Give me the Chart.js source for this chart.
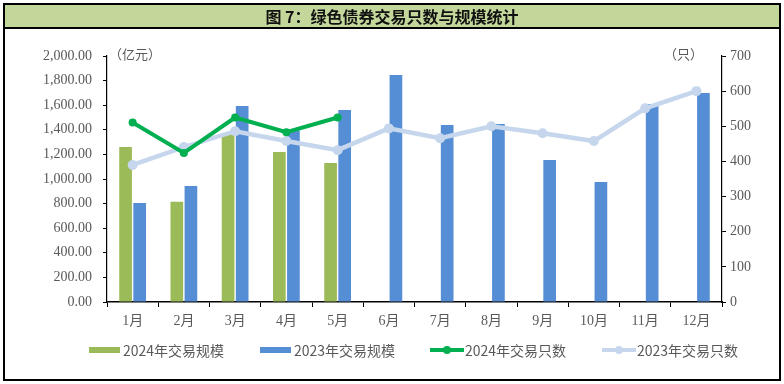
<!DOCTYPE html>
<html>
<head>
<meta charset="utf-8">
<script src="https://cdn.jsdelivr.net/npm/chart.js@4.4.1/dist/chart.umd.min.js"></script>
<style>
  html, body { margin: 0; padding: 0; background: #fff; }
  #wrap { position: relative; width: 784px; height: 384px; overflow: hidden; }
  #chart { position: absolute; left: 0; top: 0; }
  .frame {
    position: absolute; left: 3px; top: 3px; width: 774px; height: 374px;
    border: 2px solid #000; pointer-events: none;
  }
  .title {
    position: absolute; left: 0; top: 0; width: 100%; height: 22px;
    background: #c4d79b; border-bottom: 2px solid #000;
    font: 700 16px "Noto Sans CJK SC", sans-serif; color: #111;
    text-align: center; line-height: 22px;
  }
  .unit {
    position: absolute; top: 44px; font: 13px "Noto Sans CJK SC", sans-serif; color: #595959;
  }
  .legend-item {
    position: absolute; top: 341px; height: 18px; font: 14px "Noto Sans CJK SC", sans-serif;
    color: #595959; line-height: 18px; white-space: nowrap;
  }
  .legend-item .box { position: absolute; left: 0; top: 6px; width: 31px; height: 6px; }
  .legend-item .ln { position: absolute; left: 0; top: 7px; width: 34px; height: 4px; }
  .legend-item .dot { position: absolute; left: 13px; top: 5px; width: 8px; height: 8px; border-radius: 50%; }
  .legend-item span.txt { position: absolute; top: 0; }
</style>
</head>
<body>
<div id="wrap">
  <canvas id="chart" width="784" height="384"></canvas>
  <div class="frame"><div class="title">图 7：绿色债券交易只数与规模统计</div></div>
  <div class="unit" style="left:109px">（亿元）</div>
  <div class="unit" style="left:664px">（只）</div>
  <div id="legend"></div>
</div>
<script>
// categories
const months = ['1月', '2月', '3月', '4月', '5月', '6月', '7月', '8月', '9月', '10月', '11月', '12月'];

// 交易规模（亿元）
const scale2024 = [1260, 815, 1375, 1220, 1130];
const scale2023 = [805, 943, 1593, 1395, 1561, 1846, 1439, 1447, 1155, 976, 1610, 1700];

// 交易只数（只）
const count2024 = [511, 424, 525, 483, 525];
const count2023 = [390, 441, 486, 458, 432, 494, 466, 500, 480, 458, 551, 600];

const colors = {
  green: '#9bbb59',
  blue: '#558ed5',
  lineGreen: '#00b050',
  lineLight: '#c6d6ec'
};

const tickFont = { family: '"Liberation Serif", "Noto Sans CJK SC", serif', size: 14 };
const textColor = '#595959';

// legend (html)
const legendItems = [
  { label: '2024年交易规模', type: 'box', color: colors.green, left: 89 },
  { label: '2023年交易规模', type: 'box', color: colors.blue, left: 260 },
  { label: '2024年交易只数', type: 'line', color: colors.lineGreen, left: 430 },
  { label: '2023年交易只数', type: 'line', color: colors.lineLight, left: 602 }
];
const legendEl = document.getElementById('legend');
legendItems.forEach(it => {
  const d = document.createElement('div');
  d.className = 'legend-item';
  d.style.left = it.left + 'px';
  if (it.type === 'box') {
    d.innerHTML = `<div class="box" style="background:${it.color}"></div><span class="txt" style="left:34px">${it.label}</span>`;
  } else {
    d.innerHTML = `<div class="ln" style="background:${it.color}"></div><div class="dot" style="background:${it.color}"></div><span class="txt" style="left:35px">${it.label}</span>`;
  }
  legendEl.appendChild(d);
});

new Chart(document.getElementById('chart'), {
  type: 'bar',
  data: {
    labels: months,
    datasets: [
      {
        label: '2024年交易规模', data: scale2024, yAxisID: 'y',
        backgroundColor: colors.green, order: 2,
        categoryPercentage: 0.55, barPercentage: 0.9
      },
      {
        label: '2023年交易规模', data: scale2023, yAxisID: 'y',
        backgroundColor: colors.blue, order: 3,
        categoryPercentage: 0.55, barPercentage: 0.9
      },
      {
        type: 'line', label: '2024年交易只数', data: count2024, yAxisID: 'y1',
        borderColor: colors.lineGreen, backgroundColor: colors.lineGreen,
        borderWidth: 4, pointRadius: 4, pointBorderWidth: 0, tension: 0, order: 0
      },
      {
        type: 'line', label: '2023年交易只数', data: count2023, yAxisID: 'y1',
        borderColor: colors.lineLight, backgroundColor: colors.lineLight,
        borderWidth: 4.5, pointRadius: 5, pointBorderWidth: 0, tension: 0, order: 1
      }
    ]
  },
  options: {
    responsive: false,
    animation: false,
    layout: { padding: { left: 0, right: 0, top: 56, bottom: 46 } },
    plugins: {
      legend: { display: false },
      tooltip: { enabled: false }
    },
    scales: {
      x: {
        grid: { drawOnChartArea: false, tickLength: 5, color: '#000', offset: true },
        border: { color: '#000', width: 1.5 },
        ticks: { color: textColor, font: tickFont, padding: 6, maxRotation: 0 },
        afterFit: s => { s.height = 36; }
      },
      y: {
        position: 'left', min: 0, max: 2000,
        grid: { drawOnChartArea: false, tickLength: 4, color: '#000' },
        border: { color: '#000', width: 1.2 },
        ticks: {
          stepSize: 200, color: textColor, font: tickFont, padding: 11,
          callback: v => v.toLocaleString('en-US', { minimumFractionDigits: 2, maximumFractionDigits: 2 })
        },
        afterFit: s => { s.width = 107; }
      },
      y1: {
        position: 'right', min: 0, max: 700,
        grid: { drawOnChartArea: false, tickLength: 4, color: '#000' },
        border: { color: '#000', width: 1.2 },
        ticks: { stepSize: 100, color: textColor, font: tickFont, padding: 4 },
        afterFit: s => { s.width = 62; }
      }
    }
  }
});
</script>
</body>
</html>
